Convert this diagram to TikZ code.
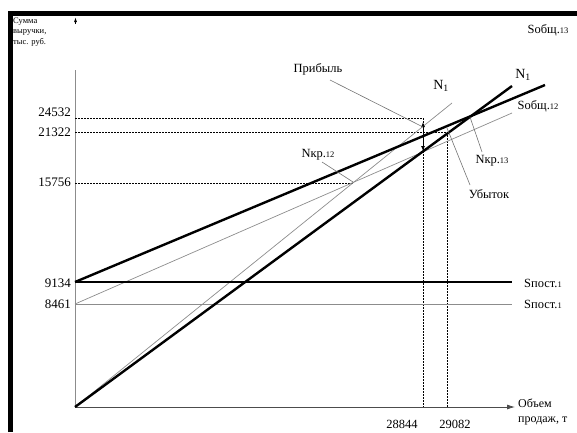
\documentclass[tikz,border=0pt]{standalone}
\usepackage{fontspec}
\setmainfont{Liberation Serif}
\usetikzlibrary{arrows.meta}
\begin{document}
\begin{tikzpicture}[x=1pt,y=-1pt,
  thickline/.style={line width=2.4pt,black},
  thinline/.style={line width=0.7pt,black!45},
  leader/.style={line width=0.6pt,black!55},
  guide/.style={line width=0.6pt,black,dash pattern=on 1.5pt off 1.5pt},
  lab/.style={font=\fontsize{12.5}{14}\selectfont,inner sep=0pt},
  tick/.style={font=\fontsize{13}{14}\selectfont,inner sep=0pt,anchor=east},
  axis/.style={line width=0.9pt,black!45}]
\useasboundingbox (0,0) rectangle (577,432);
% frame
\draw[line width=5pt,black] (10,432) -- (10,13) -- (577,13);
% axes
\coordinate (O) at (75,407);
\coordinate (ytop) at (75,70);
\coordinate (xend) at (515,407);
\draw[axis] (O) -- (ytop);
\draw[line width=0.9pt,black,-{Latex[length=5pt,width=3pt]}] (75.5,24) -- (75.5,17);
\draw[line width=0.8pt,black!70,-{Latex[length=8pt,width=5pt]}] (O) -- (xend);
\node[lab,anchor=north west,align=left,font=\fontsize{8.5}{10.5}\selectfont] (ylab) at (13,17.5) {Сумма\\выручки,\\тыс. руб.};
\node[lab,anchor=west,align=left,font=\fontsize{12}{15}\selectfont] (xlab) at (518,412) {Объем\\продаж, т};
% tick labels
\node[tick] (t1) at (71,112) {24532};
\node[tick] (t2) at (71,132) {21322};
\node[tick] (t3) at (71,182) {15756};
\node[tick] (t4) at (71,283) {9134};
\node[tick] (t5) at (71,304) {8461};
\node[lab,font=\fontsize{12.5}{14}\selectfont] (b1) at (402,424.5) {28844};
\node[lab,font=\fontsize{12.5}{14}\selectfont] (b2) at (455,424.5) {29082};
% guide lines
\coordinate (g1) at (75,118);
\coordinate (g1e) at (423,118);
\coordinate (g2) at (75,132);
\coordinate (g2e) at (447,132);
\coordinate (g3) at (75,183);
\coordinate (g3e) at (354,183);
\coordinate (v1) at (423,407);
\coordinate (v2) at (447,407);
\draw[guide] (g1) -- (g1e) -- (v1);
\draw[guide] (g2) -- (g2e) -- (v2);
\draw[guide] (g3) -- (g3e);
% fixed costs
\coordinate (f1) at (75,282);
\coordinate (f1e) at (512,282);
\coordinate (f2) at (75,304);
\coordinate (f2e) at (512,304);
\draw[thinline] (f2) -- (f2e);
% thin lines
\coordinate (r2e) at (452,103);
\coordinate (c2e) at (512,113);
\draw[thinline] (O) -- (r2e);
\draw[thinline] (f2) -- (c2e);
% thick lines
\coordinate (r1e) at (512,86);
\coordinate (c1e) at (545,85);
\draw[thickline] (f1) -- (f1e);
\draw[thickline] (O) -- (r1e);
\draw[thickline] (f1) -- (c1e);
% profit arrow
\coordinate (pa) at (423,122);
\coordinate (pb) at (423,151);
\draw[line width=0.9pt,{Latex[length=5pt,width=4pt]}-{Latex[length=5pt,width=4pt]}] (pa) -- (pb);
% labels
\node[lab] (Sob13) at (548,30) {Sобщ.{\fontsize{8.5}{9}\selectfont 13}};
\node[lab,font=\fontsize{14}{15}\selectfont] (N1a) at (523,75) {N\textsubscript{1}};
\node[lab,font=\fontsize{14}{15}\selectfont] (N1b) at (441,86) {N\textsubscript{1}};
\node[lab] (Sob12) at (538,106) {Sобщ.{\fontsize{8.5}{9}\selectfont 12}};
\node[lab] (Sp1) at (543,283) {Sпост.{\fontsize{8.5}{9}\selectfont 1}};
\node[lab] (Sp2) at (543,304) {Sпост.{\fontsize{8.5}{9}\selectfont 1}};
\node[lab] (prib) at (318,69) {Прибыль};
\node[lab] (nkr12) at (318,155) {Nкр.{\fontsize{8.5}{9}\selectfont 12}};
\node[lab] (nkr13) at (492,161) {Nкр.{\fontsize{8.5}{9}\selectfont 13}};
\node[lab] (ub) at (489,194) {Убыток};
% leaders
\coordinate (lp) at (330,80);
\coordinate (lp2) at (423,127);
\draw[leader] (lp) -- (lp2);
\coordinate (l12a) at (322,162);
\coordinate (l12b) at (353,182);
\draw[leader] (l12a) -- (l12b);
\coordinate (l13a) at (470,117);
\coordinate (l13b) at (482,152);
\draw[leader] (l13a) -- (l13b);
\coordinate (lua) at (447,128);
\coordinate (lub) at (470,185);
\draw[leader] (lua) -- (lub);
\end{tikzpicture}
\end{document}
